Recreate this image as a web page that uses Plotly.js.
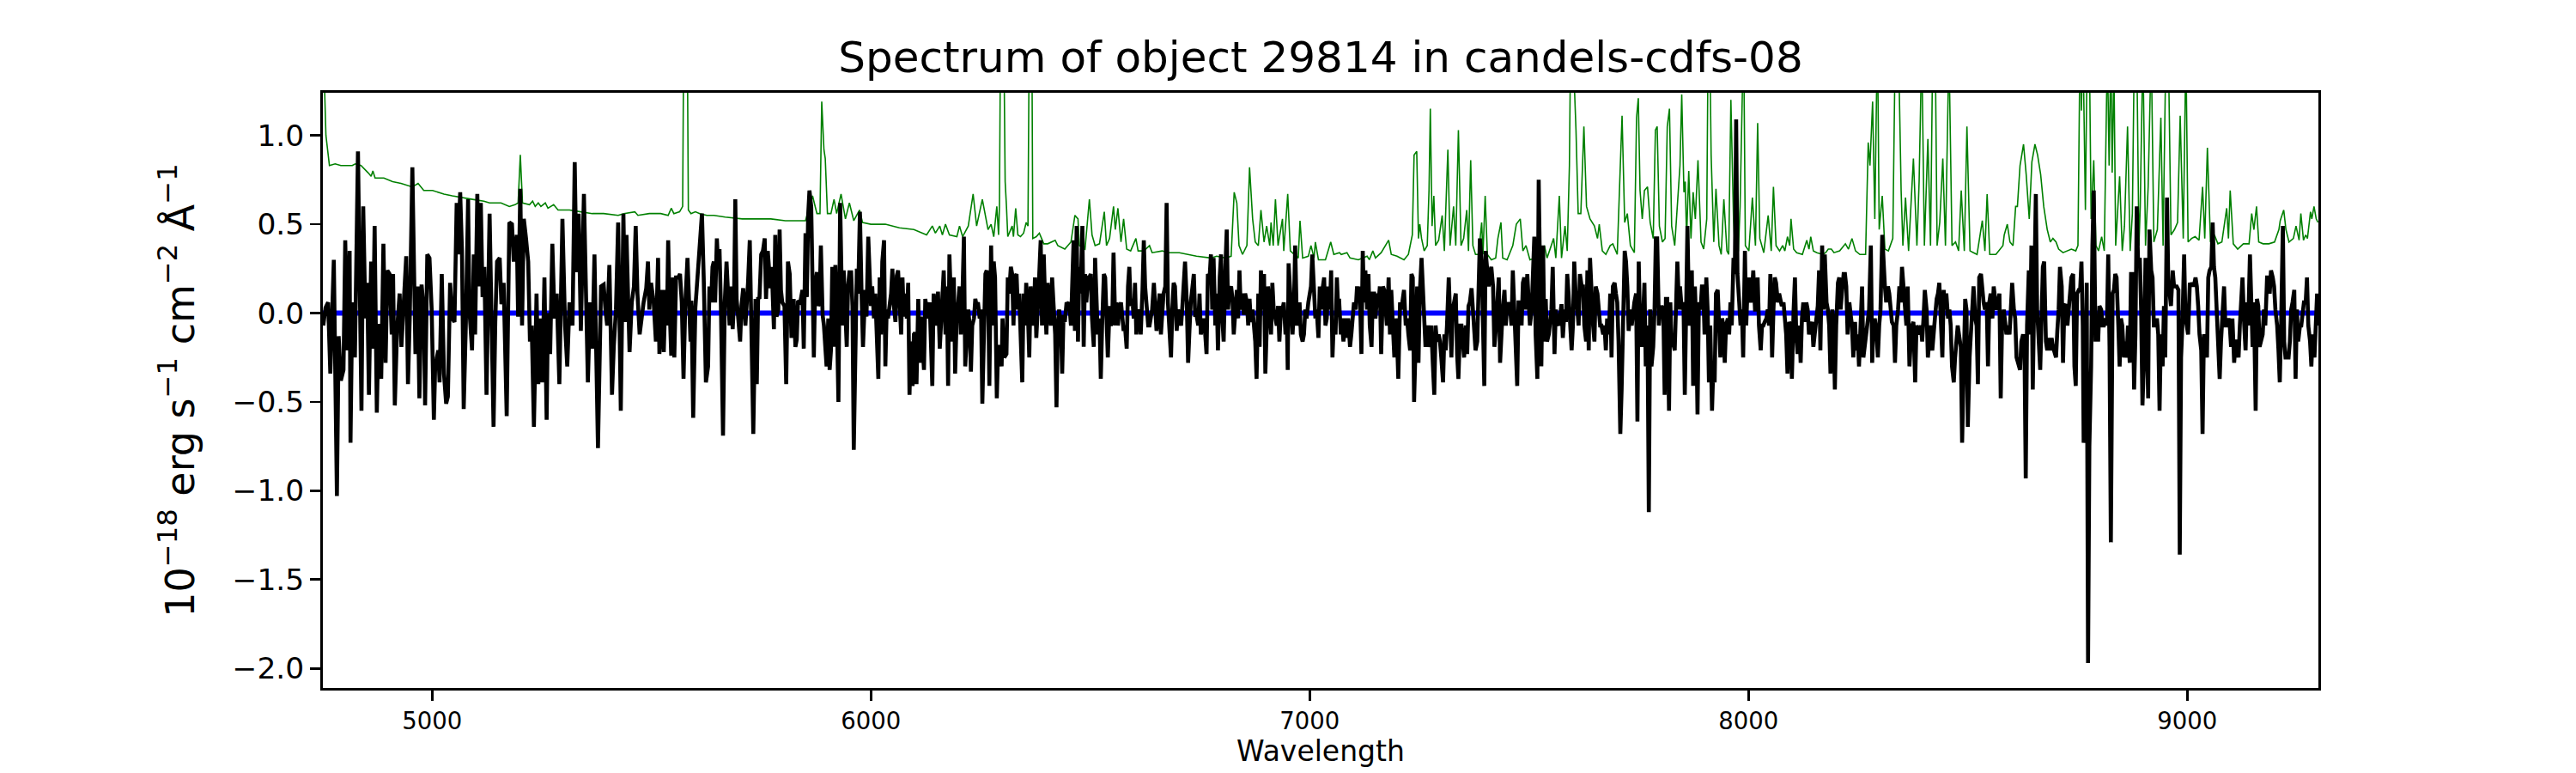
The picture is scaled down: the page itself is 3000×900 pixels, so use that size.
<!DOCTYPE html>
<html>
<head>
<meta charset="utf-8">
<script src="https://cdn.plot.ly/plotly-3.0.1.min.js"></script>
<style>html,body{margin:0;padding:0;background:#fff;}#chart{width:3000px;height:900px;}</style>
</head>
<body>
<div id="chart"></div>
<script>
// Observed spectrum (black), wavelength in Angstrom and flux in 1e-18 erg/s/cm2/A
const fluxWave = [
4752,4757,4763,4768,4776,4783,4787,4792,4798,4802,
4807,4812,4814,4818,4824,4831,4839,4843,4848,4852,
4856,4861,4865,4869,4874,4878,4884,4889,4894,4898,
4903,4908,4911,4915,4920,4926,4930,4936,4941,4945,
4949,4955,4962,4967,4971,4976,4981,4984,4989,4994,
4999,5004,5007,5014,5017,5022,5027,5032,5036,5041,
5046,5051,5056,5059,5064,5068,5072,5077,5082,5085,
5091,5095,5098,5103,5107,5111,5115,5119,5124,5131,
5136,5140,5144,5148,5154,5158,5163,5170,5176,5182,
5186,5193,5196,5201,5205,5209,5214,5219,5223,5227,
5232,5238,5242,5246,5251,5256,5261,5264,5269,5274,
5279,5284,5290,5297,5303,5308,5313,5320,5325,5329,
5334,5339,5346,5349,5355,5360,5365,5370,5375,5378,
5385,5391,5395,5399,5404,5410,5414,5419,5424,5430,
5436,5440,5443,5450,5455,5460,5464,5468,5473,5476,
5482,5488,5492,5495,5499,5505,5510,5515,5518,
5522,5525,5528,5532,5535,5538,5541,5545,5549,5552,
5556,5561,5565,5569,5573,5577,5582,5585,5589,5591,
5595,5600,5603,5608,5611,5615,5619,5624,5629,5632,
5636,5639,5642,5645,5649,5652,5655,5658,5663,5667,
5671,5675,5678,5681,5685,5688,5691,5694,5698,5702,
5705,5709,5714,5717,5720,5724,5727,5732,5737,5740,
5743,5746,5750,5754,5758,5761,5765,5768,5771,5774,
5779,5782,5785,5789,5792,5795,5798,5803,5807,5811,
5815,5819,5824,5828,5831,5834,5839,5844,5847,5851,
5854,5857,5860,5864,5867,5870,5873,5877,5880,5883,
5886,5890,5893,5896,5899,5903,5906,5909,5912,5916,
5919,5922,5926,5930,5935,5938,5942,5945,5948,5951,
5955,5958,5961,5964,5968,5971,5975,5979,5982,5987,
5990,5994,5997,6000,6003,6007,6010,6013,6017,6020,
6023,6026,6030,6033,6036,6039,6046,6049,6052,6056,
6059,6062,6065,6069,6072,6075,6078,6082,6085,6088,
6091,6095,6098,6101,6104,6108,6111,6114,6117,6121,
6124,6127,6130,6134,6137,6140,6143,6147,6150,6153,
6157,6160,6163,6166,6170,6173,6176,6179,6183,6186,
6189,6192,6196,6199,6202,6205,6209,6212,6215,6218,
6222,6225,6228,6231,6235,6238,6241,6244,6248,6251,
6254,6257,6261,6264,6267,6270,6274,6277,6280,6283,
6287,6290,
6294,6298,6300,6304,6309,6312,6315,6319,6322,6325,
6328,6332,6335,6338,6341,6345,6348,6351,6354,6358,
6361,6364,6367,6371,6374,6377,6381,6384,6387,6390,
6394,6397,6400,6403,6407,6410,6413,6416,6420,6423,
6426,6429,6433,6436,6439,6442,6446,6449,6452,6456,
6459,6462,6465,6469,6472,6475,6478,6482,6485,6488,
6491,6495,6498,6501,6504,6508,6511,6514,6517,6521,
6524,6527,6531,6534,6537,6540,6544,6547,6550,6553,
6557,6560,6563,6566,6570,6573,6576,6579,6583,6586,
6589,6592,6596,6599,6602,6605,6609,6612,6615,6619,
6622,6625,6628,6632,6635,6638,6641,6645,6648,6651,
6654,6658,6661,6664,6667,6671,6674,6677,6680,6684,
6687,6690,6693,6697,6700,6703,6707,6710,6713,6716,
6720,6723,6726,6729,6733,6736,6739,6742,6746,6749,
6752,6755,6759,6762,6765,6768,6772,6775,6778,6781,
6785,6788,6791,6795,6798,6801,6804,6808,6811,6814,
6817,6821,6824,6827,6830,6834,6837,6840,6843,6847,
6850,6853,6857,6860,6863,6866,6870,6873,6876,6879,
6883,6886,6889,6892,6896,6899,6902,6905,6909,6912,
6915,6918,6922,6925,6928,6931,6935,6938,6941,6945,
6948,6950,6952,6956,6961,6964,6967,6971,6974,6977,
6980,6984,6987,6990,6993,6997,7000,7003,7006,7010,
7013,7016,7020,7023,7026,7029,7033,7036,7039,7042,
7046,7049,7052,7055,7059,7062,7065,
7067,7071,7073,7077,7082,7085,7088,7092,7095,7098,
7101,7105,7108,7111,7114,7118,7121,7124,7127,7131,
7134,7137,7141,7144,7147,7150,7154,7157,7160,7163,
7167,7170,7173,7176,7180,7183,7186,7189,7193,7196,
7199,7202,7206,7209,7212,7215,7219,7222,7225,7229,
7232,7235,7238,7242,7245,7248,7251,7255,7258,7261,
7264,7268,7271,7274,7277,7281,7284,7287,7290,7294,
7297,7300,7304,7307,7310,7313,7317,7320,7323,7326,
7330,7333,7336,7339,7343,7346,7349,7352,7356,7359,
7362,7365,7369,7372,7375,7378,7382,7385,7388,7392,
7395,7398,7401,7405,7408,7411,7414,7418,7421,7424,
7427,7431,7434,7437,7440,7444,7447,7450,7453,7457,
7460,7463,7467,7470,7473,7476,7480,7483,7486,7489,
7493,7496,7499,7502,7506,7509,7512,7515,7519,7522,
7525,7528,7532,7535,7538,7541,7545,7548,7551,7554,
7558,7561,7564,7568,7571,7574,7577,7581,7584,7587,
7590,7594,7597,7600,7603,7607,7610,7613,7616,7620,
7623,7626,7630,7633,7636,7639,7643,7646,7649,7652,
7656,7659,7662,7665,7669,7672,7675,7678,7682,7685,
7688,7691,7695,7698,7701,7704,7708,7711,7714,7718,
7721,7724,7727,7731,7734,7737,7740,7744,7747,7750,
7753,7757,7760,7763,7766,7770,7773,7776,7779,7783,
7786,7789,7792,7796,7799,7802,7806,7809,7812,7815,
7819,7822,7825,7828,7832,7835,7838,
7842,7844,7848,7852,7855,7858,7861,7865,7868,7871,
7874,7878,7881,7884,7887,7891,7894,7897,7900,7904,
7907,7910,7913,7917,7920,7923,7926,7930,7933,7936,
7940,7943,7946,7949,7953,7956,7959,7962,7966,7969,
7972,7975,7979,7982,7985,7988,7992,7995,7998,8001,
8005,8008,8011,8015,8018,8021,8024,8028,8031,8034,
8037,8041,8044,8047,8050,8054,8057,8060,8063,8067,
8070,8073,8076,8080,8083,8086,8089,8093,8096,8099,
8103,8106,8109,8112,8116,8119,8122,8125,8129,8132,
8135,8138,8142,8145,8148,8151,8155,8158,8161,8164,
8168,8171,8174,8178,8181,8184,8187,8191,8194,8197,
8200,8204,8207,8210,8213,8217,8220,8223,8226,8230,
8233,8236,8239,8243,8246,8249,8252,8256,8259,8262,
8266,8269,8272,8275,8279,8282,8285,8288,8292,8295,
8298,8301,8305,8308,8311,8314,8318,8321,8324,8327,
8331,8334,8337,8341,8344,8347,8350,8354,8357,8360,
8363,8367,8370,8373,8376,8380,8383,8386,8389,8393,
8396,8399,8402,8406,8409,8412,8415,8419,8422,8425,
8429,8432,8435,8438,8442,8445,8448,8451,8455,8458,
8461,8464,8468,8471,8474,8477,8481,8484,8487,8490,
8494,8497,8500,8504,8507,8510,8513,8517,8520,8523,
8526,8530,8533,8536,8539,8543,8546,8549,8552,8556,
8559,8562,8565,8569,8572,8575,8578,8582,8585,8588,
8592,8595,8598,8601,8605,8608,8611,
8616,8619,8622,8626,8629,8632,8635,8639,8642,8645,
8648,8652,8655,8658,8661,8665,8668,8671,8674,8678,
8681,8684,8688,8691,8694,8697,8701,8704,8707,8710,
8714,8717,8720,8723,8727,8730,8733,8736,8740,8743,
8746,8749,8753,8756,8759,8762,8764,8768,8771,8774,
8777,8781,8784,8787,8791,8794,8797,8800,8804,8807,
8810,8813,8817,8820,8823,8826,8830,8833,8836,8839,
8843,8846,8849,8852,8856,8859,8862,8865,8869,8872,
8875,8879,8882,8885,8888,8892,8895,8898,8901,8905,
8908,8911,8914,8918,8921,8924,8927,8931,8934,8937,
8940,8944,8947,8950,8954,8957,8960,8963,8967,8970,
8973,8976,8980,8983,8986,8989,8993,8996,8999,9002,
9006,9009,9012,9015,9019,9022,9025,9028,9032,9035,
9038,9042,9045,9048,9051,9055,9058,9061,9064,9068,
9071,9074,9077,9081,9084,9087,9090,9094,9097,9100,
9103,9107,9110,9113,9117,9120,9123,9126,9130,9133,
9136,9139,9143,9146,9149,9152,9156,9159,9162,9165,
9169,9172,9175,9178,9182,9185,9188,9191,9195,9198,
9201,9205,9208,9211,9214,9218,9221,9224,9227,9231,
9234,9237,9240,9244,9247,9250,9253,9257,9260,9263,
9266,9270,9273,9276,9280,9283,9286,9290,9293,9296,
9299
];
const fluxValues = [
-0.07,0.03,0.06,-0.34,0.30,-1.03,-0.13,-0.38,-0.32,0.41,
-0.21,0.35,-0.73,0.06,-0.25,0.91,-0.55,0.60,-0.03,0.17,
-0.46,0.29,-0.20,0.49,-0.56,-0.06,-0.37,0.39,-0.28,0.24,
0.22,-0.12,0.22,-0.52,-0.10,0.11,-0.19,0.06,0.32,-0.40,
-0.03,0.82,-0.23,0.15,-0.48,0.16,0.02,-0.52,0.33,0.31,
0.02,-0.60,-0.30,-0.21,-0.39,0.22,-0.34,-0.51,-0.47,0.17,
-0.03,-0.05,0.62,0.33,0.68,0.35,-0.54,-0.05,0.64,0.02,
-0.21,0.33,-0.12,0.67,0.15,0.62,0.09,0.26,-0.46,0.56,
-0.12,-0.64,-0.05,0.29,0.31,0.05,0.17,-0.58,0.51,0.50,
0.29,0.44,-0.02,0.70,-0.07,0.53,0.42,0.29,-0.16,-0.07,
-0.64,0.11,-0.40,-0.03,-0.39,0.20,-0.60,0.00,-0.23,0.39,
-0.03,0.11,-0.40,0.53,-0.07,-0.30,0.06,-0.07,0.85,0.23,
0.56,-0.10,0.67,0.21,-0.39,0.06,-0.20,0.33,-0.30,-0.76,
0.15,0.16,0.02,-0.07,0.27,-0.46,-0.19,0.02,0.51,-0.55,
0.56,-0.05,0.44,-0.22,0.06,0.15,0.49,0.11,-0.12,-0.05,
0.06,0.14,0.29,0.02,0.17,0.06,-0.16,0.31,-0.23,
-0.07,0.13,-0.22,0.13,-0.07,0.41,0.06,-0.24,0.20,-0.25,
0.20,0.20,0.22,0.06,-0.37,0.05,0.31,0.06,-0.16,0.07,
-0.59,0.03,0.15,0.35,0.38,0.56,0.20,-0.39,-0.30,0.15,
0.06,0.26,0.29,0.06,0.42,0.26,0.36,0.06,-0.69,0.06,
0.29,0.08,-0.07,0.15,-0.09,0.06,0.64,0.08,-0.02,-0.16,
0.04,0.14,-0.07,0.02,0.17,0.41,0.06,-0.68,0.08,-0.40,
0.09,0.08,0.33,0.35,0.42,0.08,0.35,0.27,0.14,0.26,
-0.09,0.44,-0.02,0.02,0.47,0.13,0.06,0.04,-0.40,0.29,
0.22,-0.14,0.08,-0.19,-0.15,0.07,0.06,0.13,-0.20,0.45,
0.09,0.55,0.69,0.60,0.21,-0.25,0.16,0.23,0.04,0.06,
0.38,-0.01,-0.07,-0.16,-0.30,-0.03,-0.32,-0.21,0.26,-0.19,
0.27,0.04,-0.50,0.62,-0.07,0.24,0.05,-0.19,0.15,0.23,
0.23,0.04,-0.77,-0.19,0.25,0.11,0.57,0.08,-0.19,0.13,
-0.02,0.43,0.17,0.04,0.15,-0.03,0.11,-0.07,-0.37,0.20,
-0.12,0.29,0.41,-0.30,0.02,-0.03,0.11,0.25,0.05,-0.05,
0.21,0.24,0.06,-0.12,0.20,-0.02,0.11,-0.03,0.17,-0.46,
-0.16,-0.41,-0.12,-0.11,-0.40,0.08,-0.28,-0.02,-0.14,-0.32,
0.08,0.02,-0.03,0.06,-0.16,-0.41,0.11,-0.07,0.02,0.12,
-0.20,-0.07,0.14,0.24,-0.12,0.15,-0.41,0.33,0.02,-0.16,
0.20,-0.34,0.02,0.06,0.15,-0.12,0.13,0.43,-0.30,-0.16,
0.02,-0.07,-0.33,-0.07,-0.03,0.08,0.04,0.06,-0.03,0.02,
-0.51,-0.19,0.22,0.24,0.15,-0.41,0.38,-0.07,0.29,0.20,
-0.48,-0.19,
-0.19,-0.30,-0.03,-0.25,-0.23,0.20,0.11,0.26,0.22,-0.07,
0.20,0.22,0.02,0.11,-0.07,-0.39,0.11,-0.07,0.17,-0.01,
-0.25,0.15,0.03,-0.07,0.20,-0.14,0.06,0.20,0.41,-0.07,
0.33,0.07,-0.12,0.17,0.02,-0.07,0.20,0.02,-0.12,-0.53,
-0.07,0.02,-0.07,-0.34,-0.01,-0.05,0.06,0.05,0.06,-0.07,
0.11,0.41,-0.10,0.49,-0.16,0.26,0.11,0.49,-0.19,0.22,
0.06,0.20,0.20,0.22,-0.03,-0.19,0.31,0.11,-0.12,-0.03,
-0.37,-0.07,0.22,0.20,-0.01,-0.25,0.04,-0.07,-0.05,0.34,
-0.07,0.06,-0.07,0.02,0.06,-0.03,-0.10,-0.07,-0.20,0.15,
0.26,0.04,0.08,-0.03,0.17,-0.12,0.02,-0.01,-0.12,0.13,
0.41,0.15,0.06,-0.07,-0.07,-0.03,0.02,0.17,0.02,-0.10,
-0.01,0.11,-0.12,0.02,0.11,0.15,0.62,0.06,-0.07,-0.25,
0.02,0.17,0.15,-0.10,0.02,-0.03,-0.07,0.04,0.20,0.29,
0.06,-0.28,-0.10,0.06,0.15,0.22,-0.01,-0.01,-0.07,0.11,
-0.12,-0.07,-0.03,-0.12,-0.23,0.22,0.20,0.33,0.02,0.31,
-0.07,0.11,-0.21,0.20,0.33,-0.03,-0.16,0.26,0.47,0.02,
0.13,0.15,0.08,-0.12,0.02,0.13,-0.03,0.24,0.02,0.11,
-0.01,0.11,0.06,-0.07,0.08,-0.05,0.02,-0.07,-0.16,-0.37,
0.11,-0.19,0.24,0.02,0.22,-0.34,0.02,0.15,0.02,-0.12,
0.17,0.02,-0.03,-0.07,0.04,-0.16,0.04,0.02,0.06,-0.12,
-0.03,-0.32,0.28,0.11,-0.12,0.02,0.38,-0.07,-0.03,0.06,
-0.12,-0.16,-0.12,0.02,-0.03,0.06,0.11,0.15,0.33,0.08,
-0.03,0.02,-0.14,0.15,0.02,0.13,0.20,-0.07,-0.03,0.15,
0.02,0.24,-0.25,-0.05,-0.12,0.20,0.02,
0.08,-0.12,-0.03,-0.16,-0.03,-0.14,-0.03,-0.19,-0.12,0.02,
0.06,0.02,0.15,0.08,0.15,-0.23,0.35,0.06,0.24,0.02,
0.22,-0.07,-0.19,0.11,0.11,-0.03,0.11,0.06,0.15,-0.23,
0.15,0.13,0.02,-0.07,0.20,-0.12,0.13,-0.03,-0.25,-0.03,
-0.14,-0.37,0.06,0.02,0.06,0.13,-0.07,-0.03,-0.12,-0.21,
0.22,0.20,-0.50,0.04,0.15,-0.28,0.11,0.31,0.11,-0.07,
-0.19,-0.07,-0.19,-0.16,-0.07,-0.30,-0.46,-0.07,-0.16,-0.12,
-0.16,-0.25,-0.39,-0.12,-0.21,-0.07,0.20,-0.01,-0.25,0.02,
0.06,0.11,-0.23,-0.37,-0.07,-0.07,-0.16,-0.25,-0.07,-0.23,
0.04,0.06,0.14,0.02,-0.16,-0.21,-0.16,0.06,0.42,0.29,
-0.07,-0.41,0.35,0.22,0.15,0.22,0.26,0.15,-0.19,-0.10,
0.06,0.20,-0.28,-0.12,0.02,0.13,-0.07,0.04,0.06,0.02,
-0.07,0.24,0.02,-0.12,-0.41,0.06,0.06,-0.07,0.17,0.20,
0.02,0.22,0.06,-0.07,0.02,0.17,0.43,-0.12,-0.37,0.75,
-0.07,-0.30,0.38,-0.16,0.08,-0.16,-0.12,-0.03,0.02,0.26,
-0.23,0.02,-0.05,-0.07,0.02,0.05,-0.14,0.02,-0.05,0.22,
0.11,-0.14,-0.21,-0.07,0.29,0.06,0.02,-0.07,0.22,0.15,
0.15,-0.07,-0.16,0.24,-0.21,0.31,0.02,-0.07,-0.16,0.15,
0.11,-0.03,-0.07,-0.07,-0.12,-0.07,-0.21,-0.03,-0.12,0.11,
-0.25,0.15,0.17,0.11,0.06,-0.16,-0.68,-0.43,-0.07,0.35,
0.29,0.15,-0.10,0.02,-0.07,0.02,0.06,0.11,-0.61,0.29,
-0.07,-0.19,0.06,0.17,-0.30,-0.07,-1.12,0.02,-0.30,-0.19,
0.02,0.42,0.42,-0.07,0.02,0.04,0.02,-0.46,0.08,0.08,
-0.55,0.06,-0.19,-0.16,-0.21,0.02,0.29,
0.02,0.15,0.02,0.06,-0.46,0.11,0.49,-0.07,-0.03,0.24,
-0.41,0.15,-0.07,-0.57,0.06,0.02,0.15,0.15,-0.12,0.20,
0.02,-0.39,-0.07,-0.55,-0.30,-0.39,0.11,0.13,-0.12,-0.25,
-0.03,-0.07,-0.28,-0.07,-0.03,-0.12,0.06,-0.07,0.31,0.22,
1.09,0.22,0.06,-0.07,0.02,-0.25,0.35,-0.07,0.15,0.20,
0.06,0.11,0.24,0.02,0.02,0.20,-0.07,-0.21,-0.07,-0.07,
-0.05,-0.03,0.02,-0.07,0.22,-0.25,0.02,0.20,0.17,0.06,
0.11,0.06,0.04,0.06,-0.03,-0.12,-0.34,-0.05,-0.07,-0.37,
0.02,0.20,-0.12,-0.23,-0.07,-0.28,-0.03,0.06,-0.05,0.06,
0.02,-0.12,-0.07,-0.05,-0.19,-0.12,-0.07,0.04,0.24,-0.21,
0.38,0.02,0.33,0.06,0.02,-0.07,-0.34,0.02,-0.07,-0.43,
-0.07,0.17,0.20,0.02,0.11,0.22,0.22,0.15,-0.12,0.06,
-0.01,-0.07,-0.25,-0.05,-0.21,-0.12,-0.30,-0.07,0.15,-0.25,
-0.16,-0.12,-0.03,0.02,0.38,-0.28,-0.07,-0.03,-0.12,-0.25,
-0.07,0.02,0.44,0.24,0.15,0.06,0.15,0.11,0.02,-0.05,
-0.07,-0.28,-0.07,0.02,0.15,0.06,0.26,0.15,0.02,-0.07,
0.15,-0.30,-0.16,-0.07,-0.05,-0.39,-0.07,-0.10,-0.12,-0.07,
-0.16,-0.03,0.13,0.02,-0.25,-0.16,-0.07,-0.21,-0.07,-0.03,
0.08,0.11,0.17,0.02,-0.25,0.13,0.02,0.11,-0.03,0.02,
-0.07,-0.30,-0.39,-0.25,-0.12,-0.07,-0.14,-0.19,-0.73,-0.43,
0.08,0.02,-0.64,-0.25,-0.12,-0.07,0.15,-0.03,-0.07,-0.40,
0.20,0.22,0.11,0.06,0.02,0.06,-0.30,0.06,0.11,-0.03,
0.15,0.06,0.02,0.06,0.11,-0.48,-0.07,0.02,-0.07,-0.12,
-0.07,-0.12,0.02,0.17,0.02,-0.03,-0.25,
-0.30,-0.32,-0.16,-0.12,-0.16,-0.93,-0.07,0.24,-0.12,0.38,
-0.43,0.20,0.67,0.02,-0.16,-0.32,-0.03,0.26,0.29,-0.16,
-0.21,-0.14,-0.21,-0.14,-0.19,-0.21,-0.25,-0.10,0.02,0.26,
0.15,-0.28,0.04,0.05,-0.07,0.02,0.11,0.20,0.22,-0.30,
-0.41,0.11,0.13,0.13,0.29,-0.07,-0.73,-0.66,0.17,-1.97,
-0.75,-0.30,0.38,0.69,-0.16,-0.01,-0.16,0.04,0.02,-0.07,
-0.07,-0.03,-0.07,0.33,-0.19,-1.29,0.11,0.13,0.22,0.20,
-0.07,-0.30,-0.03,-0.07,-0.25,-0.16,-0.25,-0.07,-0.28,0.22,
0.22,-0.43,-0.12,0.60,0.29,0.31,0.02,-0.52,-0.30,0.31,
-0.12,-0.48,0.47,0.24,0.20,-0.07,-0.07,-0.03,-0.12,-0.55,
-0.12,-0.30,0.04,-0.25,0.65,0.15,0.11,0.04,0.24,0.15,
0.15,0.15,0.13,-1.36,-0.25,-0.07,0.33,-0.03,-0.07,-0.12,
0.17,0.15,0.17,0.15,0.20,0.15,0.04,-0.12,-0.21,-0.68,
-0.12,-0.16,-0.25,0.20,0.24,0.26,0.51,0.26,0.20,-0.07,
-0.30,-0.37,-0.16,0.04,0.15,-0.07,-0.07,-0.03,-0.07,-0.19,
-0.03,-0.28,-0.16,-0.16,-0.25,-0.07,0.06,0.20,-0.07,-0.21,
0.06,-0.07,0.33,0.02,-0.19,0.06,-0.55,0.08,0.04,-0.19,
-0.16,-0.12,0.02,-0.07,0.20,0.20,0.11,0.24,0.20,0.15,
0.02,-0.07,-0.21,-0.39,-0.07,0.49,-0.16,-0.25,-0.25,-0.25,
-0.16,0.02,0.06,0.13,-0.37,0.02,-0.16,-0.07,-0.07,0.02,
0.06,0.06,0.20,-0.07,-0.16,-0.30,-0.12,-0.25,-0.07,0.11,
-0.07
];

// Noise / sky spectrum (green)
const noiseWave = [
4751,4758,4766,4779,4792,4805,4818,4825,4838,4854,
4861,4865,4870,4890,4910,4929,4955,4968,4981,5001,
5027,5046,5066,5092,5118,5131,5157,5176,5189,5196,
5201,5206,5222,5229,5235,5242,5248,5258,5264,5277,
5287,5313,5339,5365,5391,5424,5437,5462,5469,5495,
5521,5538,5545,5551,5564,5571,5574,5577,5581,5584,
5590,5600,5610,5626,5642,5668,5707,5772,5805,5851,
5867,5877,5884,5888,5893,5896,5901,5909,5916,5922,
5932,5942,5951,5961,5974,5981,6000,6033,6065,6098,
6127,6140,6147,6157,6163,6170,6179,6196,6202,6209,
6222,6233,6241,6254,6267,6274,6280,6287,6291,6293,
6296,6299,6302,6306,6309,6312,6322,6325,6330,6335,
6341,6348,6354,6358,6361,6364,6367,6369,6377,6384,
6389,6394,6403,6413,6420,6426,6442,6456,6465,6472,
6475,6488,6498,6504,6511,6521,6532,6537,6544,6553,
6557,6563,6570,6576,6583,6592,6604,6609,6622,6635,
6641,6664,6677,6703,6742,6775,6788,6808,6821,6828,
6834,6839,6847,6857,6863,6870,6876,6883,6889,6896,
6902,6909,6912,6917,6922,6928,6938,6941,6950,6956,
6964,6974,6978,6984,6997,7003,7010,7013,7020,7036,
7048,7055,7068,7072,7085,7092,7111,7131,7136,7144,
7150,7163,7180,7186,7199,7215,7225,7234,7238,7244,
7248,7251,7255,7261,7268,7272,7275,7279,7283,7287,
7294,7302,7307,7315,7320,7328,7333,7339,7345,7351,
7358,7362,7367,7372,7378,7385,7392,7395,7400,7405,
7414,7424,7429,7436,7440,7450,7463,7471,7480,7486,
7493,7502,7515,7523,7528,7535,7541,7556,7561,7569,
7574,7582,7587,7592,7595,7600,7607,7612,7618,7625,
7631,7639,7649,7656,7660,7667,7675,7685,7691,7701,
7708,7712,7718,7724,7731,7740,7745,7749,7753,7758,
7763,7770,7776,7783,7788,7792,7797,7804,7810,7815,
7820,7825,7832,7838,7844,7848,7853,7856,7859,7864,
7869,7874,7879,7885,7892,7898,7905,7908,7912,7915,
7921,7926,7933,7938,7944,7951,7955,7960,7966,7970,
7977,7981,7985,7989,7993,8001,8009,8016,8021,8026,
8035,8045,8052,8057,8063,8071,8078,8083,8089,8094,
8097,8103,8110,8123,8133,8138,8142,8148,8156,8169,
8176,8182,8189,8195,8208,8221,8228,8236,8244,8254,
8267,8273,8277,8283,8288,8292,8294,8298,8305,8311,
8319,8329,8335,8342,8345,8348,8352,8358,8365,8376,
8384,8389,8395,8401,8409,8415,8420,8425,8430,8436,
8443,8449,8457,8464,8472,8479,8485,8492,8498,8505,
8513,8521,8533,8539,8544,8550,8564,8570,8580,8583,
8590,8596,8603,8609,8613,8619,8627,8633,8640,8646,
8653,8659,8666,8673,8681,8688,8694,8701,8707,8717,
8727,8736,8746,8751,8756,8759,8762,8768,8772,8777,
8781,8787,8792,8798,8805,8811,8818,8822,8826,8829,
8833,8837,8846,8852,8857,8864,8870,8875,8880,8885,
8890,8893,8899,8905,8911,8918,8924,8932,8940,8945,
8952,8957,8963,8971,8978,8984,8991,8997,9002,9010,
9018,9027,9035,9040,9046,9053,9062,9070,9079,9090,
9094,9098,9105,9115,9128,9141,9147,9152,9158,9163,
9173,9186,9199,9209,9212,9220,9225,9232,9242,9248,
9255,9259,9265,9270,9274,9281,9284,9289,9294,9298
];
const noiseValues = [
1.60,1.00,0.83,0.84,0.83,0.83,0.83,0.84,0.83,0.79,
0.77,0.80,0.76,0.76,0.74,0.73,0.71,0.73,0.69,0.69,
0.67,0.66,0.65,0.64,0.63,0.62,0.62,0.60,0.61,0.62,
0.89,0.62,0.61,0.63,0.60,0.62,0.60,0.62,0.59,0.61,
0.58,0.58,0.57,0.56,0.56,0.55,0.56,0.57,0.55,0.56,
0.56,0.55,0.59,0.56,0.57,0.60,1.80,2.20,1.80,0.58,
0.56,0.57,0.56,0.55,0.55,0.54,0.53,0.53,0.52,0.52,
0.66,0.56,0.56,1.19,0.92,0.87,0.56,0.56,0.64,0.56,
0.67,0.53,0.62,0.52,0.58,0.51,0.50,0.50,0.48,0.47,
0.44,0.49,0.45,0.49,0.44,0.50,0.44,0.43,0.49,0.43,
0.49,0.67,0.49,0.64,0.47,0.50,0.43,0.60,0.44,0.60,
1.80,2.50,1.80,0.74,0.60,0.43,0.49,0.43,0.59,0.44,
0.43,0.45,0.51,0.49,1.60,2.00,1.50,0.42,0.43,0.45,
0.42,0.39,0.39,0.40,0.41,0.38,0.36,0.40,0.55,0.53,
0.38,0.36,0.64,0.44,0.38,0.39,0.57,0.38,0.42,0.60,
0.47,0.59,0.40,0.53,0.36,0.35,0.42,0.35,0.35,0.38,
0.34,0.35,0.34,0.34,0.32,0.31,0.32,0.31,0.32,0.68,
0.62,0.38,0.33,0.38,0.82,0.53,0.40,0.38,0.58,0.40,
0.49,0.38,0.51,0.38,0.64,0.38,0.53,0.35,0.67,0.35,
0.33,0.31,0.52,0.31,0.32,0.38,0.31,0.40,0.30,0.30,
0.40,0.33,0.34,0.33,0.34,0.31,0.30,0.32,0.30,0.35,
0.31,0.34,0.41,0.33,0.32,0.30,0.33,0.44,0.89,0.91,
0.42,0.50,0.42,0.35,0.38,0.69,1.15,0.49,0.66,0.38,
0.41,0.55,0.35,0.92,0.38,0.60,0.38,1.03,0.38,0.42,
0.58,0.35,0.86,0.38,0.33,0.33,0.51,0.33,0.66,0.33,
0.30,0.31,0.42,0.51,0.31,0.30,0.38,0.50,0.53,0.35,
0.38,0.30,0.31,0.42,0.33,0.38,0.31,0.42,0.31,0.66,
0.31,0.49,0.35,0.83,1.60,1.50,1.03,0.56,0.56,1.05,
0.60,0.53,0.49,0.42,0.50,0.35,0.33,0.38,0.39,0.33,
0.83,1.11,0.51,0.56,0.38,0.34,1.10,1.21,0.69,0.53,
0.69,0.71,0.51,0.42,1.03,1.05,0.49,0.40,0.42,1.05,
1.15,0.49,0.38,0.62,0.83,1.23,0.68,0.74,0.42,0.80,
0.42,0.68,0.53,0.86,0.40,0.36,0.53,1.50,1.50,0.89,
0.40,0.70,0.38,0.33,0.64,0.35,0.33,1.20,0.53,0.33,
0.35,0.60,1.40,1.60,0.38,0.35,0.65,0.38,1.07,0.42,
0.34,0.55,0.35,0.71,0.38,0.35,0.38,0.35,0.43,0.38,
0.53,0.36,0.34,0.33,0.41,0.36,0.43,0.35,0.34,0.33,
0.34,0.36,0.36,0.34,0.35,0.39,0.36,0.42,0.35,0.33,
0.33,0.96,0.83,1.19,0.53,1.50,1.60,0.47,0.66,0.36,
0.35,0.42,1.60,1.50,1.07,0.69,0.38,0.65,0.35,0.87,
0.38,0.74,1.50,0.38,0.98,0.38,1.50,1.70,0.38,0.51,
0.87,0.38,1.50,0.38,0.40,0.35,0.69,0.35,1.05,0.35,
0.34,0.33,0.52,0.35,0.67,0.33,0.33,0.35,0.38,0.44,
0.50,0.40,0.38,0.60,0.60,0.83,0.95,0.78,0.53,0.85,
0.95,0.89,0.78,0.60,0.47,0.40,0.42,0.40,0.36,0.34,
0.35,0.36,0.35,0.38,1.60,1.14,1.60,0.58,1.50,1.50,
0.53,0.86,0.38,0.35,0.43,0.35,1.50,0.83,1.50,0.79,
1.40,0.38,0.77,0.35,0.49,1.05,0.35,0.56,1.60,1.50,
0.38,0.60,1.50,0.38,0.71,1.50,0.40,0.47,1.10,0.38,
1.60,1.50,0.44,0.47,0.51,1.11,0.42,1.50,0.40,0.42,
0.43,0.41,0.71,0.42,0.93,0.40,0.44,0.39,0.40,0.59,
0.42,0.69,0.39,0.36,0.39,0.39,0.56,0.47,0.60,0.40,
0.39,0.39,0.40,0.47,0.52,0.58,0.47,0.40,0.42,0.49,
0.41,0.56,0.41,0.44,0.42,0.57,0.53,0.60,0.53,0.51
];

// Model (blue), flat at zero
const modelWave = [4751, 9299];
const modelValues = [0, 0];

// Axis settings
const xRange = [4751, 9299];
const yRange = [-2.11, 1.24];
const xTicks = [5000, 6000, 7000, 8000, 9000];
const yTicks = [-2.0, -1.5, -1.0, -0.5, 0.0, 0.5, 1.0];

const FONT = 'DejaVu Sans, Liberation Sans, sans-serif';

const traces = [
  {x: noiseWave, y: noiseValues, type: 'scatter', mode: 'lines',
   line: {color: '#008000', width: 1.6}, hoverinfo: 'skip', showlegend: false},
  {x: modelWave, y: modelValues, type: 'scatter', mode: 'lines',
   line: {color: '#0000ff', width: 6}, hoverinfo: 'skip', showlegend: false},
  {x: fluxWave, y: fluxValues, type: 'scatter', mode: 'lines',
   line: {color: '#000000', width: 4.6}, hoverinfo: 'skip', showlegend: false}
];

const layout = {
  width: 3000, height: 900,
  margin: {l: 376, r: 300, t: 108, b: 99, pad: 0},
  paper_bgcolor: '#ffffff', plot_bgcolor: '#ffffff',
  showlegend: false,
  font: {family: FONT, color: '#000000'},
  title: {
    text: 'Spectrum of object 29814 in candels-cdfs-08',
    font: {family: FONT, size: 50, color: '#000000'},
    x: 0.5, xref: 'paper', xanchor: 'center',
    y: 1 - 66 / 900, yref: 'container', yanchor: 'middle'
  },
  xaxis: {
    range: xRange, tickvals: xTicks, ticktext: xTicks.map(String),
    showgrid: false, zeroline: false,
    showline: true, mirror: true, linecolor: '#000000', linewidth: 2.8,
    ticks: 'outside', ticklen: 12, tickwidth: 2.8, tickcolor: '#000000',
    tickfont: {family: FONT, size: 27.5, color: '#000000'},
    title: {text: 'Wavelength', font: {family: FONT, size: 33, color: '#000000'}, standoff: 8}
  },
  yaxis: {
    range: yRange, tickvals: yTicks, tickformat: '.1f',
    showgrid: false, zeroline: false,
    showline: true, mirror: true, linecolor: '#000000', linewidth: 2.8,
    ticks: 'outside', ticklen: 12, tickwidth: 2.8, tickcolor: '#000000',
    tickfont: {family: FONT, size: 34.5, color: '#000000'},
    title: {text: '10<sup>\u221218</sup> erg s<sup>\u22121</sup> cm<sup>\u22122</sup> \u00c5<sup>\u22121</sup>',
            font: {family: FONT, size: 46, color: '#000000'}, standoff: 30}
  }
};

Plotly.newPlot('chart', traces, layout, {displayModeBar: false, staticPlot: true});
</script>
</body>
</html>
